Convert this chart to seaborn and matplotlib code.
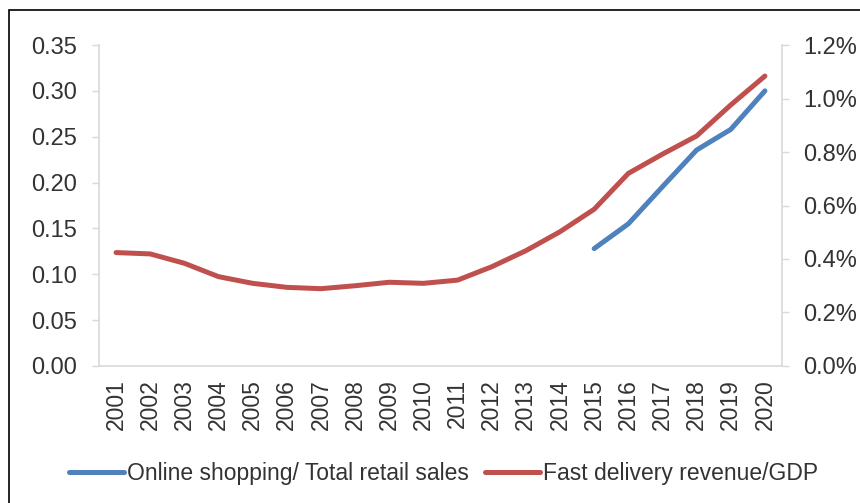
import matplotlib
matplotlib.use("Agg")
import matplotlib.pyplot as plt
import seaborn as sns
import pandas as pd
from matplotlib.patches import Rectangle
from matplotlib.ticker import FuncFormatter

# data
years = list(range(2001, 2021))
delivery_gdp = [0.424, 0.419, 0.384, 0.334, 0.309, 0.294, 0.289, 0.300, 0.313, 0.309,
                0.321, 0.371, 0.431, 0.502, 0.586, 0.720, 0.792, 0.860, 0.976, 1.084]
online_years = [2015, 2016, 2017, 2018, 2019, 2020]
online_share = [0.128, 0.155, 0.1955, 0.2355, 0.258, 0.300]
left_ticks = [0.00, 0.05, 0.10, 0.15, 0.20, 0.25, 0.30, 0.35]
right_ticks = [0.0, 0.2, 0.4, 0.6, 0.8, 1.0, 1.2]

sns.set_style("white")
plt.rcParams["font.family"] = ["Liberation Sans", "DejaVu Sans"]

BLUE = "#4f81bd"
RED = "#c0504d"
TXT = "#333333"
SPINE = "#d9d9d9"

df_red = pd.DataFrame({"year": years, "val": delivery_gdp})
df_blue = pd.DataFrame({"year": online_years, "val": online_share})

fig = plt.figure(figsize=(8.6, 5.03), dpi=100)
ax = fig.add_axes([0.1151, 0.2724, 0.9093 - 0.1151, 0.9105 - 0.2724])
ax2 = ax.twinx()

sns.lineplot(data=df_blue, x="year", y="val", ax=ax, color=BLUE, linewidth=3.6,
             solid_capstyle="round", label="Online shopping/ Total retail sales", legend=False)
sns.lineplot(data=df_red, x="year", y="val", ax=ax2, color=RED, linewidth=3.6,
             solid_capstyle="round", label="Fast delivery revenue/GDP", legend=False)

ax.set_xlim(2000.5, 2020.5)
ax.set_ylim(0, 0.35)
ax2.set_ylim(0, 1.2)
ax.set_yticks(left_ticks)
ax.set_yticklabels([f"{t:.2f}" for t in left_ticks])
ax2.set_yticks(right_ticks)
ax2.yaxis.set_major_formatter(FuncFormatter(lambda v, p: f"{v:.1f}%"))
ax.set_xticks(years)
ax.set_xticklabels([str(y) for y in years], rotation=90)

for a in (ax, ax2):
    a.set_xlabel("")
    a.set_ylabel("")
    a.spines["top"].set_visible(False)
    for s in ("left", "right", "bottom"):
        a.spines[s].set_color(SPINE)
        a.spines[s].set_linewidth(1.2)
ax.spines["right"].set_visible(False)
ax2.spines["left"].set_visible(False)
ax2.spines["bottom"].set_visible(False)

ax.tick_params(axis="y", which="both", left=True, length=5, width=1, color=SPINE,
               labelsize=17, labelcolor=TXT, pad=10.5)
ax2.tick_params(axis="y", which="both", right=True, length=5, width=1, color=SPINE,
                labelsize=17, labelcolor=TXT, pad=10)
ax.tick_params(axis="x", bottom=False, labelsize=16.5, labelcolor=TXT, pad=6)

handles = ax.get_lines() + ax2.get_lines()
labels = [h.get_label() for h in handles]
fig.legend(handles, labels, loc="center", bbox_to_anchor=(0.5157, 0.058), ncol=2,
           frameon=False, fontsize=16.5, handlelength=2.4, handletextpad=0.15,
           columnspacing=0.7, labelcolor=TXT)

fig.patches.append(Rectangle((8.5 / 860, -0.1), 2, 1 - 10.5 / 503 + 0.1,
                             transform=fig.transFigure, fill=False,
                             edgecolor="black", linewidth=1.2))

fig.savefig("out.png", dpi=100)
